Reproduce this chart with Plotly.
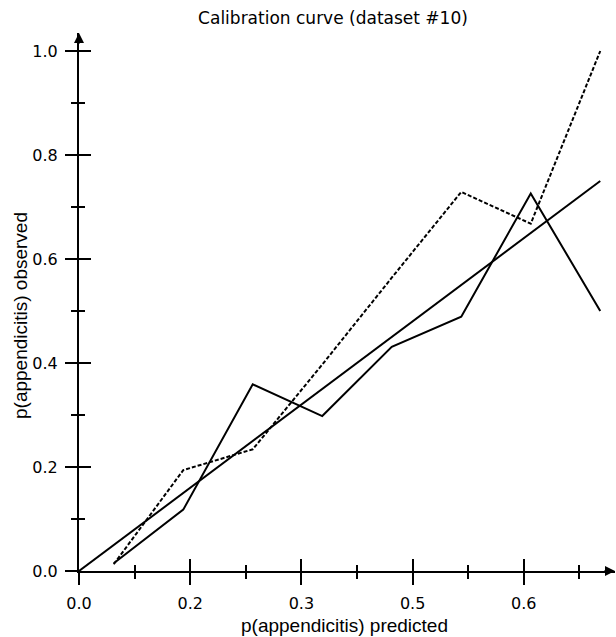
import plotly.graph_objects as go

# bin midpoints of predicted probability
pred = [0.05, 0.15, 0.25, 0.35, 0.45, 0.55, 0.65, 0.75]
obs_solid = [0.015, 0.118, 0.359, 0.298, 0.431, 0.489, 0.726, 0.500]
obs_dashed = [0.013, 0.194, 0.234, 0.397, 0.564, 0.729, 0.668, 1.000]
ideal = [0.0, 0.75]

x_ticks = [0, 0.16, 0.32, 0.48, 0.64]
y_ticks = [0, 0.2, 0.4, 0.6, 0.8, 1.0]

x_max = 536 / 695
y_max = 538 / 520

fig = go.Figure()
fig.add_trace(go.Scatter(x=ideal, y=ideal, mode="lines",
                         line=dict(color="black", width=2)))
fig.add_trace(go.Scatter(x=pred, y=obs_solid, mode="lines",
                         line=dict(color="black", width=2)))
fig.add_trace(go.Scatter(x=pred, y=obs_dashed, mode="lines",
                         line=dict(color="black", width=2, dash="4px,2px")))
# empty trace so the second pair of axes (inner tick halves) is drawn
fig.add_trace(go.Scatter(x=[None], y=[None], xaxis="x2", yaxis="y2"))

tick_font = dict(family="DejaVu Sans", size=16, color="black")
common = dict(showgrid=False, zeroline=False, showline=True,
              linecolor="black", linewidth=2, tickcolor="black", tickwidth=2)

fig.update_layout(
    width=616, height=637,
    margin=dict(l=79, r=1, t=33, b=66),
    plot_bgcolor="white", paper_bgcolor="white",
    showlegend=False,
    title=dict(text="Calibration curve (dataset #10)", x=333 / 616, y=1 - 18 / 637,
               xanchor="center", yanchor="middle",
               font=dict(family="DejaVu Sans", size=17, color="black")),
    xaxis=dict(range=[0, x_max], tickvals=x_ticks, tickformat=".1f",
               ticks="outside", ticklen=12, tickfont=tick_font,
               ticklabelstandoff=5,
               minor=dict(dtick=0.08, tick0=0, ticks="outside", ticklen=6,
                          tickcolor="black", tickwidth=2),
               **common),
    yaxis=dict(range=[0, y_max], tickvals=y_ticks, tickformat=".1f",
               ticks="outside", ticklen=12, tickfont=tick_font,
               ticklabelstandoff=4,
               minor=dict(dtick=0.1, tick0=0, ticks="outside", ticklen=6,
                          tickcolor="black", tickwidth=2),
               **common),
    xaxis2=dict(range=[0, x_max], overlaying="x", anchor="y", side="bottom",
                tickvals=x_ticks, showticklabels=False,
                ticks="inside", ticklen=12,
                minor=dict(dtick=0.08, tick0=0, ticks="inside", ticklen=6,
                           tickcolor="black", tickwidth=2),
                **common),
    yaxis2=dict(range=[0, y_max], overlaying="y", anchor="x", side="left",
                tickvals=y_ticks, showticklabels=False,
                ticks="inside", ticklen=12,
                minor=dict(dtick=0.1, tick0=0, ticks="inside", ticklen=6,
                           tickcolor="black", tickwidth=2),
                **common),
)

axis_title_font = dict(family="Liberation Sans", size=19, color="black")
fig.add_annotation(text="p(appendicitis) predicted", xref="paper", yref="paper",
                   x=(344 - 79) / 536, y=(571 - 625) / 538,
                   xanchor="center", yanchor="middle", showarrow=False,
                   font=axis_title_font)
fig.add_annotation(text="p(appendicitis) observed", xref="paper", yref="paper",
                   x=(20 - 79) / 536, y=(571 - 316) / 538, textangle=-90,
                   xanchor="center", yanchor="middle", showarrow=False,
                   font=axis_title_font)

# arrow heads at the axis ends
fig.add_annotation(x=0, y=1, xref="x", yref="paper", ax=0, ay=12, text="",
                   showarrow=True, arrowhead=2, arrowsize=1, arrowwidth=2,
                   arrowcolor="black")
fig.add_annotation(x=1, y=0, xref="paper", yref="y", ax=-12, ay=0, text="",
                   showarrow=True, arrowhead=2, arrowsize=1, arrowwidth=2,
                   arrowcolor="black")

# drop the browser's default page margin so the figure sits at the corner
fig.write_html("out.html", config={"displayModeBar": False},
               post_script="document.body.style.margin='0';")
